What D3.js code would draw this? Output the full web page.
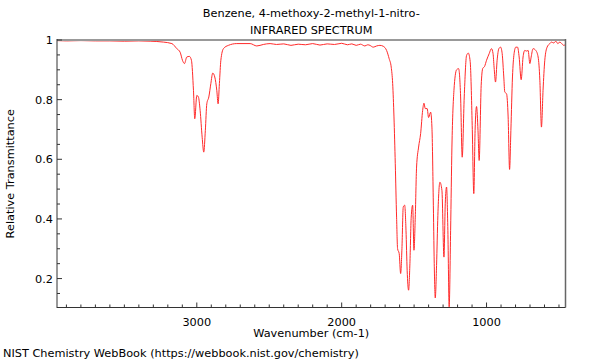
<!DOCTYPE html>
<html>
<head>
<meta charset="utf-8">
<script src="https://cdn.jsdelivr.net/npm/d3@7"></script>
<style>
html,body{margin:0;padding:0;background:#fff;}
svg{display:block;font-family:"DejaVu Sans",sans-serif;}
</style>
</head>
<body>
<svg id="chart" width="600" height="360"></svg>
<script>
const titleLines = ["Benzene, 4-methoxy-2-methyl-1-nitro-", "INFRARED SPECTRUM"];
const xLabel = "Wavenumber (cm-1)";
const yLabel = "Relative Transmittance";
const footer = "NIST Chemistry WebBook (https://webbook.nist.gov/chemistry)";
const xTickValues = [3000, 2000, 1000];
const yTickValues = [0.2, 0.4, 0.6, 0.8, 1];

const wavenumber = [3965,3900,3800,3700,3600,3500,3400,3322,3230,3172,3138,3115,3099,3085,3069,3051,3037,3023,3014,3000,2989,2977,2963,2952,2941,2931,2917,2903,2890,2876,2862,2853,2844,2834,2816,2782,2724,2632,2586,2541,2494,2450,2400,2350,2300,2250,2200,2150,2100,2050,2000,1960,1930,1900,1870,1840,1820,1805,1782,1759,1736,1713,1690,1672,1658,1648,1639,1630,1621,1614,1603,1593,1584,1575,1565,1556,1548,1538,1529,1520,1510,1501,1492,1483,1469,1455,1441,1432,1423,1410,1400,1386,1377,1368,1361,1354,1345,1336,1322,1308,1294,1285,1276,1267,1258,1248,1239,1225,1207,1193,1179,1168,1154,1138,1126,1113,1099,1088,1079,1069,1059,1051,1037,1026,1014,1000,982,966,955,948,938,927,915,903,892,881,874,862,851,841,832,821,810,798,786,775,761,748,736,724,713,701,692,679,660,644,632,621,610,598,582,563,552,536,522,508,494,481,467,455];
const transmittance = [0.998,0.997,0.998,0.997,0.997,0.996,0.997,0.996,0.993,0.988,0.971,0.959,0.932,0.921,0.943,0.945,0.932,0.831,0.736,0.814,0.809,0.764,0.674,0.624,0.697,0.786,0.809,0.854,0.889,0.876,0.831,0.786,0.854,0.932,0.971,0.982,0.988,0.988,0.980,0.985,0.988,0.985,0.987,0.982,0.986,0.984,0.988,0.983,0.987,0.985,0.989,0.984,0.987,0.982,0.986,0.980,0.984,0.982,0.976,0.980,0.982,0.979,0.965,0.937,0.909,0.854,0.742,0.585,0.406,0.300,0.284,0.217,0.300,0.440,0.446,0.362,0.228,0.161,0.250,0.406,0.446,0.295,0.406,0.574,0.641,0.686,0.764,0.788,0.770,0.770,0.740,0.758,0.708,0.473,0.250,0.135,0.244,0.412,0.523,0.496,0.272,0.451,0.507,0.362,0.105,0.362,0.641,0.831,0.900,0.904,0.809,0.607,0.809,0.948,0.956,0.928,0.714,0.485,0.697,0.777,0.697,0.596,0.848,0.905,0.911,0.932,0.954,0.971,0.954,0.909,0.859,0.932,0.971,0.976,0.954,0.876,0.825,0.820,0.742,0.566,0.697,0.876,0.954,0.976,0.976,0.943,0.867,0.943,0.965,0.963,0.965,0.921,0.943,0.971,0.965,0.943,0.865,0.708,0.831,0.932,0.976,0.988,0.993,0.990,0.996,0.988,0.993,0.988,0.982,0.985];

const svg = d3.select("#chart");
const FS = 11.3;
const L = 57, R = 565.5, T = 40, B = 307.5;
const x = d3.scaleLinear().domain([3965, 455]).range([L, R]);
const y = d3.scaleLinear().domain([0.103, 1]).range([B, T]);

const data = wavenumber.map((w, i) => ({w, t: transmittance[i]}));

svg.append("defs").append("clipPath").attr("id", "clip")
  .append("rect").attr("x", L).attr("y", T - 1).attr("width", R - L).attr("height", B - T + 1);

// Spectrum
svg.append("path")
  .datum(data)
  .attr("clip-path", "url(#clip)")
  .attr("fill", "none")
  .attr("stroke", "#ff2a2a")
  .attr("stroke-width", 1)
  .attr("d", d3.line().x(d => x(d.w)).y(d => y(d.t)).curve(d3.curveMonotoneX));

// Frame top/right
svg.append("line").attr("x1", L).attr("x2", R).attr("y1", T).attr("y2", T)
  .attr("stroke", "#999").attr("stroke-width", 2);
svg.append("line").attr("x1", R).attr("x2", R).attr("y1", T - 1).attr("y2", B)
  .attr("stroke", "#666").attr("stroke-width", 1.5);

// Bottom axis
const xMinor = d3.range(3900, 455, -100).filter(v => v % 1000 !== 0);
const gx = svg.append("g").attr("transform", `translate(0,${B})`);
gx.append("line").attr("x1", L).attr("x2", R).attr("stroke", "#333").attr("stroke-width", 1);
gx.selectAll(".minor").data(xMinor).enter().append("line")
  .attr("x1", d => x(d)).attr("x2", d => x(d)).attr("y1", 0).attr("y2", -3)
  .attr("stroke", "#333");
gx.selectAll(".major").data(xTickValues).enter().append("line")
  .attr("x1", d => x(d)).attr("x2", d => x(d)).attr("y1", 0).attr("y2", -5)
  .attr("stroke", "#333");
gx.selectAll("text").data(xTickValues).enter().append("text")
  .attr("x", d => x(d)).attr("y", 18).attr("text-anchor", "middle")
  .attr("font-size", FS).attr("fill", "#000").text(d => d);

// Left axis
const yMinor = d3.range(0.15, 1.0, 0.05).map(v => +v.toFixed(2)).filter(v => Math.abs(v * 5 - Math.round(v * 5)) > 1e-6);
const gy = svg.append("g").attr("transform", `translate(${L},0)`);
gy.append("line").attr("y1", T - 1).attr("y2", B + 0.5).attr("stroke", "#333").attr("stroke-width", 1);
gy.selectAll(".minor").data(yMinor).enter().append("line")
  .attr("y1", d => y(d)).attr("y2", d => y(d)).attr("x1", 0).attr("x2", 3)
  .attr("stroke", "#333");
gy.selectAll(".major").data(yTickValues).enter().append("line")
  .attr("y1", d => y(d)).attr("y2", d => y(d)).attr("x1", 0).attr("x2", 5)
  .attr("stroke", "#333");
gy.selectAll("text").data(yTickValues).enter().append("text")
  .attr("x", -4).attr("y", d => y(d) + 4.2).attr("text-anchor", "end")
  .attr("font-size", FS).attr("fill", "#000").text(d => d3.format("")(d));

// Titles
svg.selectAll(".title").data(titleLines).enter().append("text")
  .attr("x", (L + R) / 2).attr("y", (d, i) => 17 + i * 17)
  .attr("text-anchor", "middle").attr("font-size", FS).attr("fill", "#000").text(d => d);

svg.append("text").attr("x", (L + R) / 2).attr("y", 337).attr("text-anchor", "middle")
  .attr("font-size", FS).attr("fill", "#000").text(xLabel);

svg.append("text").attr("transform", `translate(14,${(T + B) / 2}) rotate(-90)`)
  .attr("text-anchor", "middle").attr("font-size", FS).attr("fill", "#000").text(yLabel);

svg.append("text").attr("x", 3).attr("y", 357).attr("font-size", FS).attr("fill", "#000").text(footer);
</script>
</body>
</html>
